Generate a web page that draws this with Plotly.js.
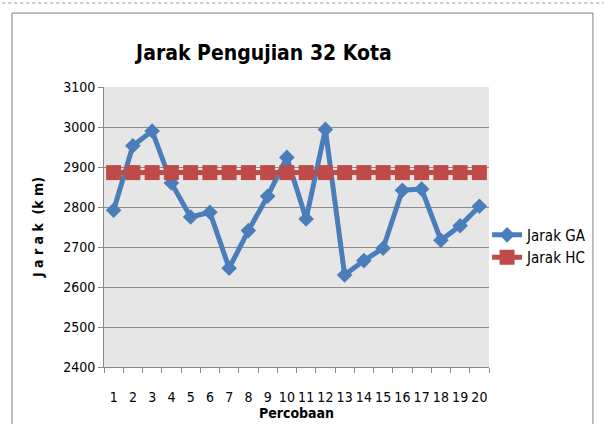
<!DOCTYPE html>
<html>
<head>
<meta charset="utf-8">
<script src="https://cdn.plot.ly/plotly-3.0.1.min.js"></script>
<style>
  html, body { margin: 0; padding: 0; background: #fff; }
  #PLOT { width: 604px; height: 424px; }
</style>
</head>
<body>
<div id="PLOT"></div>
<script>
// data
const percobaan = ['1','2','3','4','5','6','7','8','9','10','11','12','13','14','15','16','17','18','19','20'];
const jarakGA = [2792, 2953, 2990, 2860, 2775, 2787, 2647, 2741, 2827, 2924, 2770, 2994, 2630, 2666, 2697, 2842, 2845, 2717, 2753, 2802];
const jarakHC = [2886, 2886, 2886, 2886, 2886, 2886, 2886, 2886, 2886, 2886, 2886, 2886, 2886, 2886, 2886, 2886, 2886, 2886, 2886, 2886];

const font = '"DejaVu Sans Condensed", "Liberation Sans Narrow", sans-serif';

const traceGA = {
  x: percobaan,
  y: jarakGA,
  name: 'Jarak GA',
  type: 'scatter',
  mode: 'lines+markers',
  line: { color: '#4a7ebb', width: 5 },
  marker: { symbol: 'diamond', size: 12, color: '#4a7ebb' }
};

const traceHC = {
  x: percobaan,
  y: jarakHC,
  name: 'Jarak HC',
  type: 'scatter',
  mode: 'lines+markers',
  line: { color: '#be4b48', width: 5 },
  marker: { symbol: 'square', size: 15, color: '#be4b48' }
};

const layout = {
  width: 604,
  height: 424,
  margin: { l: 104, r: 111, t: 87, b: 57 },
  paper_bgcolor: '#ffffff',
  plot_bgcolor: '#e6e6e6',
  font: { family: font, size: 14, color: '#000' },
  title: {
    text: '<b>Jarak Pengujian 32 Kota</b>',
    font: { family: font, size: 21, color: '#000' },
    x: 0.437, xanchor: 'center',
    y: 0.875, yanchor: 'middle'
  },
  xaxis: {
    type: 'category',
    range: [-0.5, 19.5],
    tickmode: 'linear',
    dtick: 1,
    tickangle: 0,
    tickson: 'boundaries',
    ticks: 'outside',
    ticklen: 5,
    ticklabelstandoff: 17,
    tickcolor: '#888',
    showline: true,
    linecolor: '#888',
    showgrid: false,
    tickfont: { family: font, size: 14 },
    title: { text: '<b>Percobaan</b>', font: { family: font, size: 14 }, standoff: 4 }
  },
  yaxis: {
    range: [2400, 3100],
    dtick: 100,
    ticks: 'outside',
    ticklen: 5,
    tickcolor: '#888',
    showline: true,
    linecolor: '#888',
    gridcolor: '#8c8c8c',
    zeroline: false,
    tickfont: { family: font, size: 14 },
    title: { text: '<b>J a r a k  (k m)</b>', font: { family: font, size: 14 }, standoff: 16 }
  },
  showlegend: true,
  legend: {
    x: 0.995, xanchor: 'left',
    y: 0.53, yanchor: 'top',
    bgcolor: 'rgba(0,0,0,0)',
    font: { family: font, size: 15 },
    tracegroupgap: 8
  },
  shapes: [
    { type: 'rect', xref: 'paper', yref: 'paper', x0: -0.239, x1: 1.27, y0: -0.25, y1: 1.264,
      line: { color: '#7f7f7f', width: 1 } },
    { type: 'line', xref: 'paper', yref: 'paper', x0: -0.28, x1: 1.3, y0: 1.3, y1: 1.3,
      line: { color: '#999', width: 1, dash: 'dot' } }
  ]
};

Plotly.newPlot('PLOT', [traceGA, traceHC], layout, { displayModeBar: false, staticPlot: true });
</script>
</body>
</html>
